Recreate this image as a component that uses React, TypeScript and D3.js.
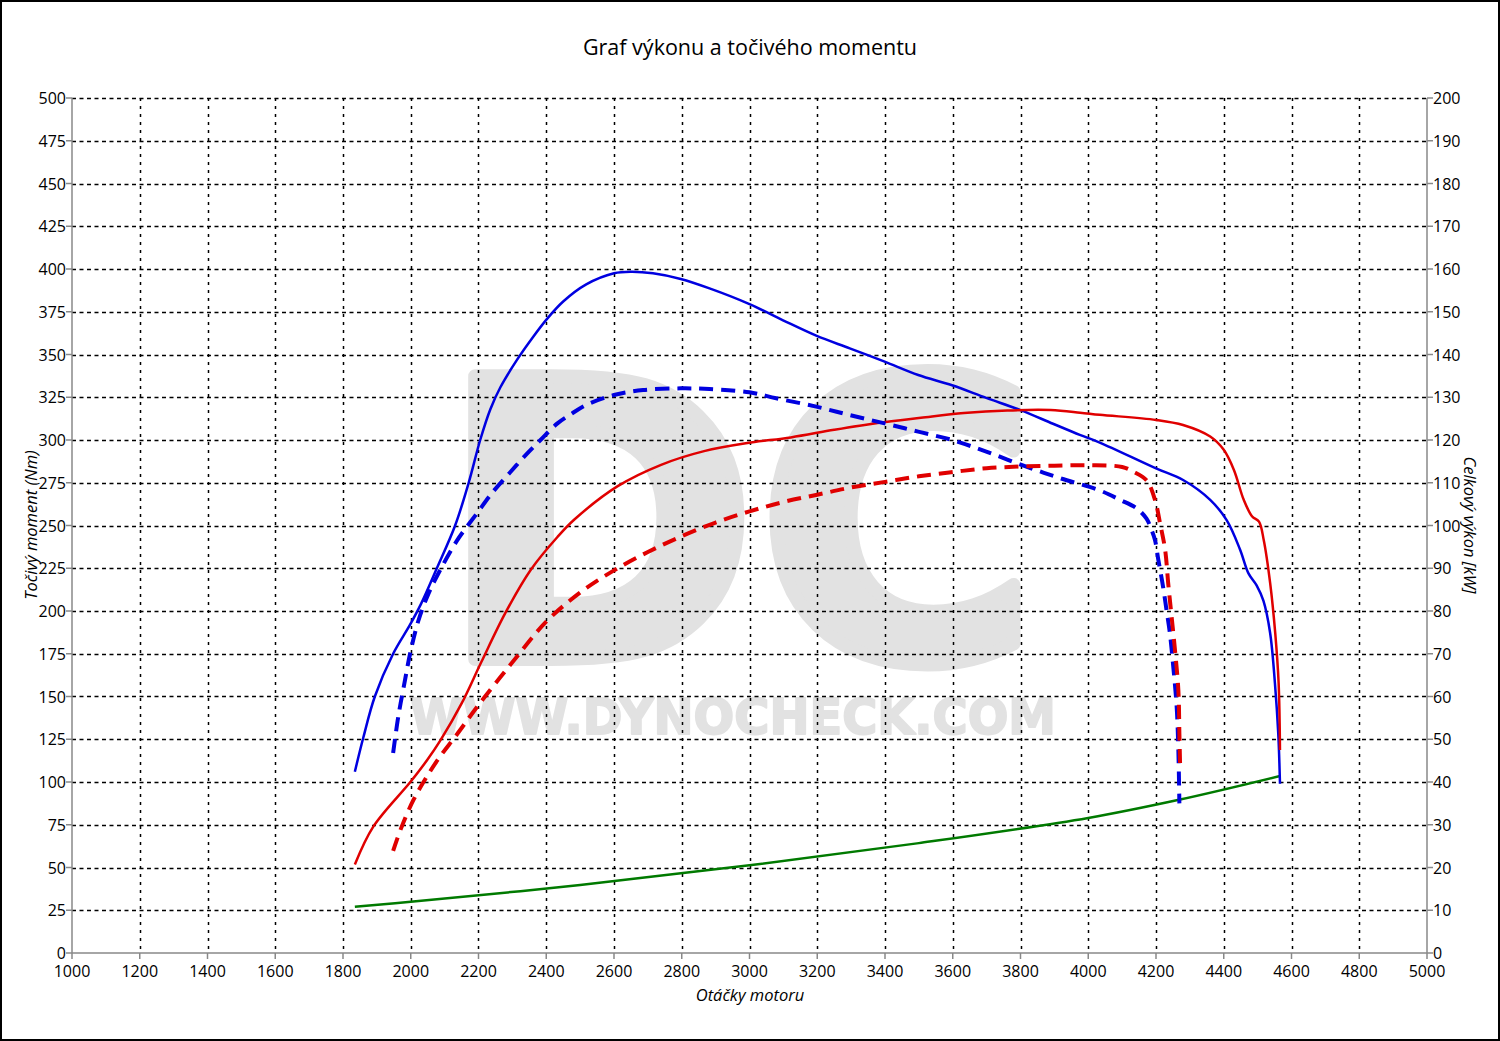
import React from "react";
import * as d3 from "d3";

// ---- Data ----
const rpmTicks = [1000, 1200, 1400, 1600, 1800, 2000, 2200, 2400, 2600, 2800, 3000, 3200, 3400, 3600, 3800, 4000, 4200, 4400, 4600, 4800, 5000];
const torqueTicks = d3.range(0, 501, 25);
const powerTicks = d3.range(0, 201, 10);

// Tuned torque (Nm) – blue solid
const torqueTunedRpm = [1835, 1860, 1894, 1948, 1998, 2030, 2077, 2131, 2171, 2205, 2235, 2265, 2314, 2360, 2403, 2450, 2518, 2600, 2651, 2715, 2797, 2882, 3000, 3099, 3197, 3296, 3399, 3498, 3598, 3699, 3800, 3896, 3975, 4034, 4200, 4280, 4360, 4409, 4448, 4473, 4497, 4517, 4537, 4551, 4561, 4566];
const torqueTunedNm = [106, 126, 150, 175, 192, 204, 225, 250, 275, 300, 318, 331, 347, 360, 371, 381, 391, 397.5, 398.4, 397.5, 394.2, 388.7, 379.5, 370, 361, 353.6, 345.8, 338, 332, 324.6, 317.5, 309.5, 303, 298.5, 283.4, 276.6, 265, 253, 236, 222, 215, 206, 187, 158, 128, 99];

// Stock torque (Nm) – blue dashed
const torqueStockRpm = [1948, 1963, 1983, 1998, 2022, 2052, 2087, 2136, 2195, 2244, 2293, 2344, 2383, 2433, 2472, 2518, 2600, 2686, 2797, 2882, 3000, 3079, 3197, 3296, 3399, 3498, 3598, 3699, 3813, 3920, 4034, 4094, 4143, 4172, 4187, 4197, 4207, 4221, 4231, 4241, 4251, 4261, 4266, 4269];
const torqueStockNm = [117, 138, 159.6, 175, 194, 210, 224, 241, 257, 270, 281, 292.2, 300, 309.7, 315, 320.5, 326.3, 329.2, 330.2, 329.8, 327.9, 324.4, 319.5, 314.6, 309.7, 304.9, 300, 293.2, 284.7, 277.5, 270.5, 265, 260, 254, 247.4, 241.5, 229.8, 214, 200.6, 187, 167.4, 144, 118.7, 87.5];

// Tuned power (kW) – red solid
const powerTunedRpm = [1835, 1889, 2000, 2049, 2088, 2151, 2208, 2279, 2355, 2433, 2483, 2611, 2739, 2866, 2994, 3122, 3250, 3378, 3506, 3633, 3761, 3889, 3976, 4034, 4200, 4280, 4360, 4400, 4430, 4459, 4484, 4504, 4518, 4537, 4552, 4562, 4566];
const powerTunedKw = [20.7, 29.5, 40.1, 45.2, 49.8, 58.5, 68, 79.5, 89.7, 97.3, 101.4, 109.2, 114.2, 117.4, 119.3, 120.6, 122.4, 124, 125.2, 126.3, 126.9, 127, 126.4, 125.9, 124.7, 123.5, 120.8, 117.7, 113, 106, 102.1, 100.9, 96.6, 86.5, 74.8, 63.1, 47.5];

// Stock power (kW) – red dashed
const powerStockRpm = [1948, 1973, 2008, 2047, 2086, 2135, 2200, 2300, 2400, 2500, 2600, 2700, 2800, 2900, 3000, 3100, 3200, 3300, 3400, 3500, 3600, 3700, 3800, 3900, 4000, 4100, 4133, 4172, 4197, 4212, 4227, 4236, 4246, 4256, 4266, 4269, 4271];
const powerStockKw = [23.9, 29.5, 35.8, 41.2, 45.9, 51, 58, 68, 77.5, 84.3, 89.5, 93.8, 97.5, 100.7, 103.3, 105.5, 107.2, 108.9, 110.2, 111.5, 112.5, 113.4, 113.8, 114, 114.1, 113.7, 112.6, 110.6, 106, 100.5, 94.3, 86.5, 78.7, 70.9, 61.5, 51.4, 44.4];

// Loss power (kW) – green
const lossRpm = [1835, 2000, 2500, 3000, 3500, 4000, 4271, 4566];
const lossKw = [10.8, 12.0, 15.9, 20.5, 25.7, 31.6, 35.9, 41.4];

const titleText = "Graf výkonu a točivého momentu";
const xTitle = "Otáčky motoru";
const yLeftTitle = "Točivý moment (Nm)";
const yRightTitle = "Celkový výkon [kW]";

const W = 1500;
const H = 1041;
const FONT = "'Open Sans', 'Noto Sans', sans-serif";

export default function App() {
  const x = d3.scaleLinear().domain([1000, 5000]).range([72, 1427]);
  const yT = d3.scaleLinear().domain([0, 500]).range([953, 98]);
  const yP = d3.scaleLinear().domain([0, 200]).range([953, 98]);

  const mk = (rpm: number[], vals: number[], y: d3.ScaleLinear<number, number>) =>
    d3
      .line<number>()
      .x((_, i) => x(rpm[i]))
      .y((v) => y(v))
      .curve(d3.curveCatmullRom.alpha(0.5))(vals) || "";

  const [x0, x1] = x.range();
  const [yb, yt] = yT.range();
  const wm = "#e2e2e2";

  return (
    <svg
      width={W}
      height={H}
      style={{ position: "absolute", left: 0, top: 0, background: "#fff" }}
      fontFamily={FONT}
    >
      <rect x={0} y={0} width={W} height={H} fill="#fff" />

      {/* watermark */}
      <g fill={wm} stroke={wm} fontFamily="'DejaVu Sans', sans-serif" fontWeight="bold" strokeLinejoin="round">
        <text x={440} y={659} fontSize={388} textLength={598} lengthAdjust="spacingAndGlyphs" strokeWidth={14}>
          DC
        </text>
        <text x={410} y={734} fontSize={50} textLength={646} lengthAdjust="spacingAndGlyphs" strokeWidth={2}>
          WWW.DYNOCHECK.COM
        </text>
      </g>

      {/* grid */}
      <g stroke="#000" strokeWidth={1.5}>
        {torqueTicks.filter((t) => t > 0).map((t) => (
          <line key={"h" + t} x1={x0} x2={x1} y1={Math.round(yT(t)) + 0.5} y2={Math.round(yT(t)) + 0.5} strokeDasharray="4,3.5" />
        ))}
        {rpmTicks.filter((t) => t > 1000 && t < 5000).map((t) => (
          <line key={"v" + t} x1={Math.round(x(t)) + 0.5} x2={Math.round(x(t)) + 0.5} y1={yt} y2={yb} strokeDasharray="3,5" />
        ))}
      </g>

      {/* axes */}
      <g stroke="#888" strokeWidth={1.5} fill="none">
        <line x1={x0} x2={x0} y1={yt} y2={yb} />
        <line x1={x1} x2={x1} y1={yt} y2={yb} />
        <line x1={x0} x2={x1} y1={yb} y2={yb} />
        {torqueTicks.map((t) => (
          <line key={"lt" + t} x1={x0 - 6} x2={x0} y1={yT(t)} y2={yT(t)} />
        ))}
        {powerTicks.map((t) => (
          <line key={"rt" + t} x1={x1} x2={x1 + 6} y1={yP(t)} y2={yP(t)} />
        ))}
        {rpmTicks.map((t) => (
          <line key={"bt" + t} x1={x(t)} x2={x(t)} y1={yb} y2={yb + 6} />
        ))}
      </g>

      {/* tick labels */}
      <g fontSize={16} fill="#000">
        {torqueTicks.map((t) => (
          <text key={"ll" + t} x={x0 - 6} y={yT(t)} textAnchor="end" dominantBaseline="central">
            {t}
          </text>
        ))}
        {powerTicks.map((t) => (
          <text key={"rl" + t} x={x1 + 6} y={yP(t)} textAnchor="start" dominantBaseline="central">
            {t}
          </text>
        ))}
        {rpmTicks.map((t) => (
          <text key={"bl" + t} x={x(t)} y={yb + 18} textAnchor="middle" dominantBaseline="central">
            {t}
          </text>
        ))}
      </g>

      {/* series */}
      <g fill="none" strokeLinejoin="round">
        <path d={mk(lossRpm, lossKw, yP)} stroke="#007a00" strokeWidth={2.5} />
        <path d={mk(torqueTunedRpm, torqueTunedNm, yT)} stroke="#0000e0" strokeWidth={2.5} />
        <path d={mk(powerTunedRpm, powerTunedKw, yP)} stroke="#e00000" strokeWidth={2.5} />
        <path d={mk(torqueStockRpm, torqueStockNm, yT)} stroke="#0000e0" strokeWidth={4} strokeDasharray="14,8" />
        <path d={mk(powerStockRpm, powerStockKw, yP)} stroke="#e00000" strokeWidth={4} strokeDasharray="14,8" />
      </g>

      {/* titles */}
      <text x={750} y={46} textAnchor="middle" dominantBaseline="central" fontSize={21.5} fill="#000">
        {titleText}
      </text>
      <text x={750} y={994} textAnchor="middle" dominantBaseline="central" fontSize={16.5} fontStyle="italic" fill="#000">
        {xTitle}
      </text>
      <text
        transform={`translate(30,525) rotate(-90)`}
        textAnchor="middle"
        dominantBaseline="central"
        fontSize={16.5}
        fontStyle="italic"
        fill="#000"
      >
        {yLeftTitle}
      </text>
      <text
        transform={`translate(1470,525) rotate(90)`}
        textAnchor="middle"
        dominantBaseline="central"
        fontSize={16.5}
        fontStyle="italic"
        fill="#000"
      >
        {yRightTitle}
      </text>

      <rect x={1} y={1} width={W - 2} height={H - 2} fill="none" stroke="#000" strokeWidth={2} />
    </svg>
  );
}
